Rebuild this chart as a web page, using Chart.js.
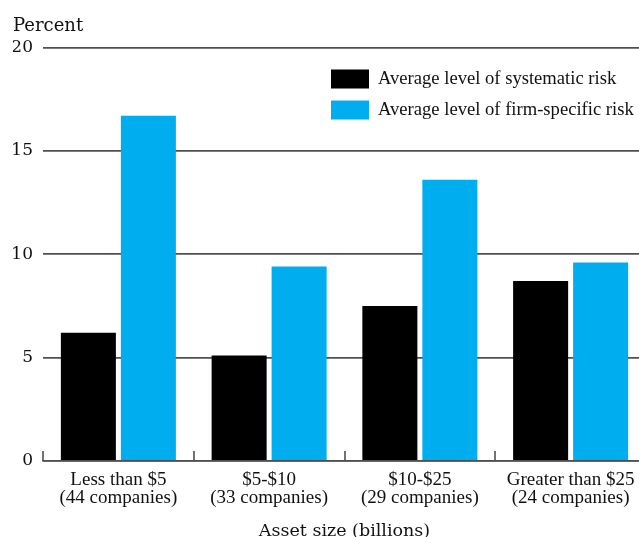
<!DOCTYPE html>
<html>
<head>
<meta charset="utf-8">
<script src="https://cdn.jsdelivr.net/npm/chart.js@4.4.1/dist/chart.umd.min.js"></script>
<style>
  html, body { margin: 0; padding: 0; background: #ffffff; overflow: hidden; }
  #wrap { position: relative; width: 646px; height: 537px; }
</style>
</head>
<body>
<div id="wrap"><canvas id="c"></canvas></div>
<script>
const categories = [
  ['Less than $5', '(44 companies)'],
  ['$5-$10', '(33 companies)'],
  ['$10-$25', '(29 companies)'],
  ['Greater than $25', '(24 companies)']
];
const seriesNames = ['Average level of systematic risk', 'Average level of firm-specific risk'];
const systematicRisk = [6.2, 5.1, 7.5, 8.7];
const firmSpecificRisk = [16.7, 9.4, 13.6, 9.6];
const yTicks = [0, 5, 10, 15, 20];
const yAxisLabel = 'Percent';
const xAxisLabel = 'Asset size (billions)';

const colors = ['#000000', '#00ADEF'];
const serifNarrow = '"Liberation Serif", "Times New Roman", serif';
const serifWide = '"DejaVu Serif", serif';

const boundaryTicks = {
  id: 'boundaryTicks',
  afterDatasetsDraw(chart) {
    const x = chart.scales.x, ctx = chart.ctx;
    const n = x.ticks.length;
    ctx.save();
    ctx.strokeStyle = '#505050';
    ctx.lineWidth = 1.6;
    for (let i = 0; i < n; i++) {
      const px = Math.round(x.left + i * x.width / n);
      ctx.beginPath();
      ctx.moveTo(px, x.top - 10);
      ctx.lineTo(px, x.top);
      ctx.stroke();
    }
    ctx.restore();
  }
};

const boxLegend = {
  id: 'boxLegend',
  afterDraw(chart) {
    const ctx = chart.ctx, area = chart.chartArea;
    const bx = area.right - 315;
    const tops = [area.top + 22, area.top + 53];
    ctx.save();
    ctx.font = '18.6px ' + serifNarrow;
    ctx.textBaseline = 'middle';
    ctx.textAlign = 'left';
    chart.data.datasets.forEach((ds, i) => {
      ctx.fillStyle = ds.backgroundColor;
      ctx.fillRect(bx, tops[i], 38, 19);
      ctx.fillStyle = '#111111';
      ctx.fillText(ds.label, bx + 47, tops[i] + 10);
    });
    ctx.restore();
  }
};

new Chart(document.getElementById('c'), {
  type: 'bar',
  data: {
    labels: categories,
    datasets: [
      { label: seriesNames[0], data: systematicRisk, backgroundColor: colors[0],
        categoryPercentage: 0.796, barPercentage: 0.917 },
      { label: seriesNames[1], data: firmSpecificRisk, backgroundColor: colors[1],
        categoryPercentage: 0.796, barPercentage: 0.917 }
    ]
  },
  options: {
    responsive: true,
    maintainAspectRatio: false,
    animation: false,
    layout: { padding: { left: 13, right: 0, top: 0, bottom: 0 } },
    plugins: {
      legend: { display: false },
      tooltip: { enabled: false },
      title: {
        display: true,
        text: yAxisLabel,
        align: 'start',
        color: '#111111',
        font: { family: serifWide, size: 18, weight: 'normal', lineHeight: 1.2 },
        padding: { top: 15.5, bottom: 10.4 }
      }
    },
    scales: {
      x: {
        grid: { display: false, drawTicks: false },
        border: { display: true, color: '#505050', width: 1.6 },
        ticks: {
          color: '#111111',
          padding: 10,
          maxRotation: 0,
          autoSkip: false,
          font: { family: serifNarrow, size: 19, lineHeight: 0.95 }
        },
        title: {
          display: true,
          text: xAxisLabel,
          color: '#111111',
          font: { family: serifWide, size: 17.5, lineHeight: 1.2 },
          padding: { top: 3.5, bottom: -4.5 }
        }
      },
      y: {
        min: 0,
        max: 20,
        afterBuildTicks: (s) => { s.ticks = yTicks.map(v => ({ value: v })); },
        afterFit: (s) => { s.width = 30; },
        grid: { color: '#505050', lineWidth: 1.8, drawTicks: false },
        border: { display: false },
        ticks: {
          color: '#111111',
          padding: 10,
          font: { family: serifWide, size: 17 }
        }
      }
    }
  },
  plugins: [boundaryTicks, boxLegend]
});
</script>
</body>
</html>
